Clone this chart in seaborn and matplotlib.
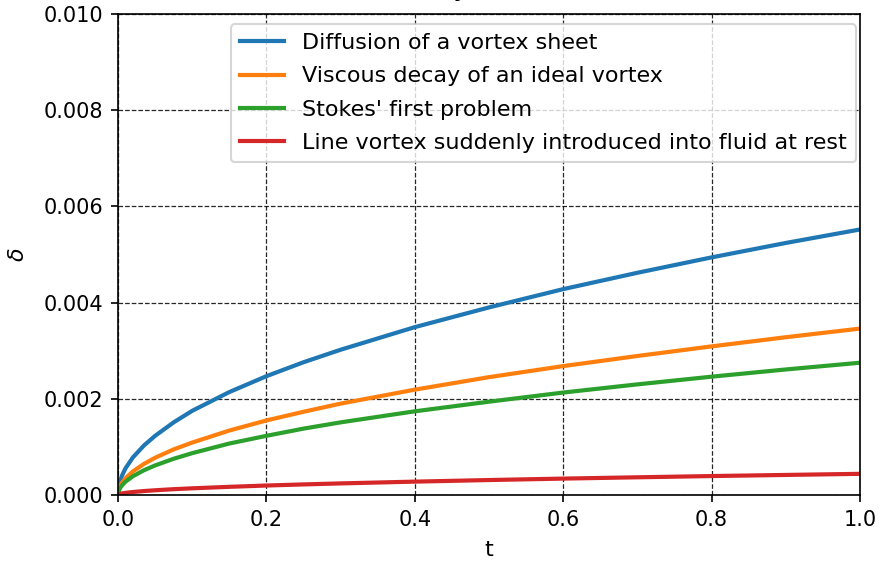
import matplotlib
matplotlib.use("Agg")
import matplotlib.pyplot as plt
import seaborn as sns

# Time samples and boundary-layer thickness values for each flow
t = [0, 0.002, 0.005, 0.01, 0.02, 0.035, 0.05, 0.075, 0.1, 0.15, 0.2,
     0.25, 0.3, 0.4, 0.5, 0.6, 0.7, 0.8, 0.9, 1.0]

vortex_sheet = [0, 0.000247, 0.00039, 0.000552, 0.00078, 0.00103, 0.00123,
                0.00151, 0.00175, 0.00214, 0.00247, 0.00276, 0.00302,
                0.00349, 0.0039, 0.00428, 0.00462, 0.00494, 0.00524, 0.00552]
ideal_vortex = [0, 0.000155, 0.000245, 0.000346, 0.000489, 0.000647,
                0.000774, 0.000948, 0.00109, 0.00134, 0.00155, 0.00173,
                0.0019, 0.00219, 0.00245, 0.00268, 0.00289, 0.00309,
                0.00328, 0.00346]
stokes_first = [0, 0.000123, 0.000194, 0.000275, 0.000389, 0.000515,
                0.000615, 0.000753, 0.00087, 0.00107, 0.00123, 0.00138,
                0.00151, 0.00174, 0.00194, 0.00213, 0.0023, 0.00246,
                0.00261, 0.00275]
line_vortex = [0, 0.0000197, 0.0000311, 0.000044, 0.0000622, 0.0000823,
               0.0000984, 0.000121, 0.000139, 0.00017, 0.000197, 0.00022,
               0.000241, 0.000278, 0.000311, 0.000341, 0.000368, 0.000394,
               0.000417, 0.00044]

labels = ["Diffusion of a vortex sheet",
          "Viscous decay of an ideal vortex",
          "Stokes' first problem",
          "Line vortex suddenly introduced into fluid at rest"]
series = [vortex_sheet, ideal_vortex, stokes_first, line_vortex]
colors = sns.color_palette("tab10", 4)

DPI = 150
fig, ax = plt.subplots(figsize=(879 / DPI, 565 / DPI), dpi=DPI)
fig.subplots_adjust(left=118 / 879, right=860 / 879,
                    top=1 - 14 / 565, bottom=1 - 495 / 565)

for vals, lab, col in zip(series, labels, colors):
    sns.lineplot(x=t, y=vals, label=lab, color=col, linewidth=2, ax=ax)

ax.set_xlim(0, 1)
ax.set_ylim(0, 0.010)
ax.set_xticks([0, 0.2, 0.4, 0.6, 0.8, 1.0])
ax.set_yticks([0, 0.002, 0.004, 0.006, 0.008, 0.010])
ax.yaxis.set_major_formatter(matplotlib.ticker.FormatStrFormatter("%.3f"))
ax.tick_params(labelsize=10)
ax.grid(True, linestyle="--", color="black", linewidth=0.6, alpha=0.85)
ax.set_xlabel("t", fontsize=10.7, labelpad=5)
ax.set_ylabel(r"$\delta$", fontsize=10.7, labelpad=7.5)
ax.set_title("Vorticity diffusion δ", fontsize=13, pad=9)
ax.legend(loc="upper right", fontsize=10.7, labelspacing=0.6,
          borderaxespad=0, bbox_to_anchor=(0.9946, 0.979))

fig.savefig("out.png", dpi=DPI)
